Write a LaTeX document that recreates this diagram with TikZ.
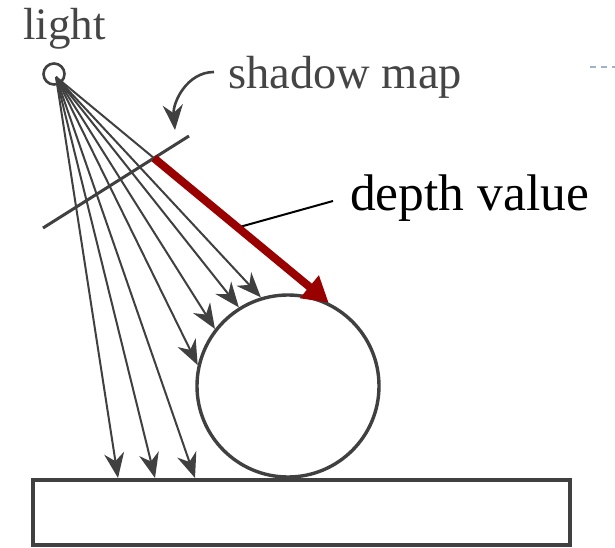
\documentclass[tikz,border=0pt]{standalone}
\usepackage{fontspec}
\setmainfont{Liberation Serif}
\usetikzlibrary{arrows.meta,calc}
\definecolor{ink}{HTML}{404040}
\definecolor{txtgray}{HTML}{454545}
\definecolor{deepred}{HTML}{990000}
\definecolor{ghostblue}{HTML}{9FB4CC}
\begin{document}
\begin{tikzpicture}[x=1pt,y=1pt,
  ray/.style={draw=ink, line width=2pt, -{Stealth[length=25pt,width=20pt,inset=8pt]}},
  plainray/.style={draw=ink, line width=2pt},
  txtlabel/.style={inner sep=0pt, anchor=base west, text=txtgray},
]
\fill[white] (0,0) rectangle (615,547);
\useasboundingbox (0,0) rectangle (615,547);

% texts
\node[txtlabel, font=\fontsize{45}{50}\selectfont] (lighttxt) at (23,507) {light};
\node[txtlabel, font=\fontsize{46.5}{50}\selectfont] (smtxt) at (228,458) {shadow map};
\node[inner sep=0pt, anchor=base west, font=\fontsize{51.5}{56}\selectfont] (depth) at (350,337) {depth value};

% light source
\node[draw=ink, line width=2.6pt, circle, minimum size=21pt, inner sep=0pt] (lamp) at (54,473) {};
\coordinate (L) at (56,470);

% objects
\node[draw=ink, line width=3.4pt, circle, minimum size=182pt, inner sep=0pt] (ball) at (288,161) {};
\node[draw=ink, line width=4pt, rectangle, minimum width=537pt, minimum height=65pt, inner sep=0pt] (ground) at (301.5,34.5) {};

% rays to the ground
\foreach \gx [count=\i] in {118,155,195} {
  \coordinate (g\i) at (\gx,0);
  \draw[ray] (L) -- (g\i |- ground.north);
}
% rays to the ball
\foreach \a in {167,142,122,107} {
  \draw[ray] (L) -- (ball.\a);
}

% shadow map plane
\coordinate (sm1) at (43,319);
\coordinate (sm2) at (189,411);
\draw[ink, line width=3pt] (sm1) -- (sm2);

% depth ray
\coordinate (T) at (ball.64.5);
\coordinate (S) at (intersection of L--T and sm1--sm2);
\draw[plainray] (L) -- (S);
\coordinate (dl) at (333,346);
\draw[black, line width=2pt] ($(S)!0.48!(T)$) -- (dl);
\draw[deepred, line width=8pt, -{Triangle[length=25pt,width=28pt]}] (S) -- (T);

% shadow map pointer
\coordinate (smtip) at (175,417);
\draw[ink, line width=2.6pt, -{Stealth[length=25pt,width=20pt,inset=8pt]}]
  ($(smtxt.base west)+(-14,17)$) to[out=180,in=95] (smtip);

% faint dashed mark at right edge
\draw[ghostblue, line width=1.5pt, dash pattern=on 6pt off 5pt] (590,480) -- (615,480);
\end{tikzpicture}
\end{document}
